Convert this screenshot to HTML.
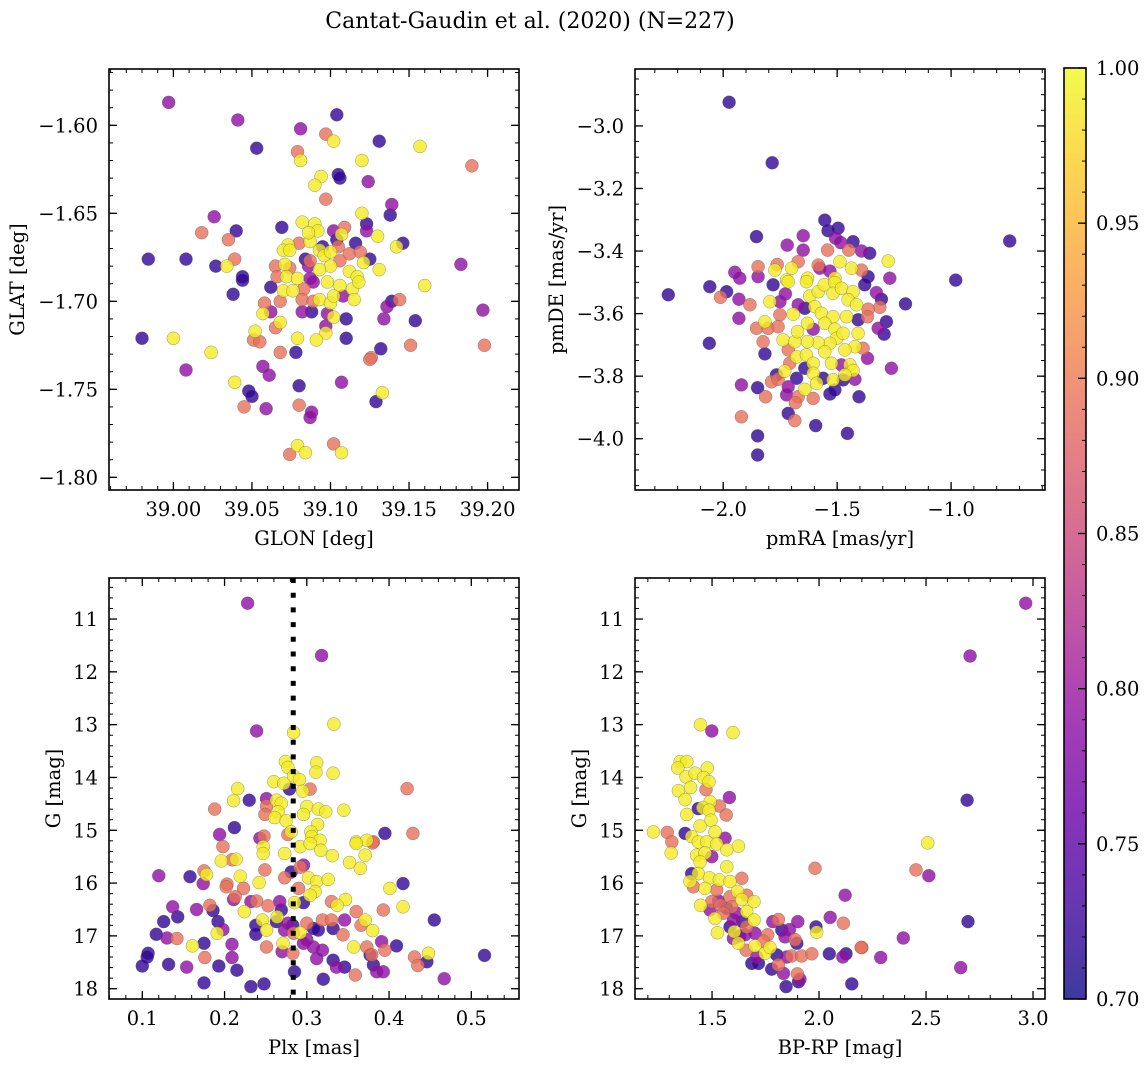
<!DOCTYPE html>
<html><head><meta charset="utf-8"><style>
html,body{margin:0;padding:0;background:#fff;}
svg{display:block;font-family:"DejaVu Serif","Liberation Serif",serif;}
</style></head><body>
<svg id="fig" width="1148" height="1067" viewBox="0 0 1148 1067" xmlns="http://www.w3.org/2000/svg">
<text x="530" y="28" text-anchor="middle" font-size="22">Cantat-Gaudin et al. (2020) (N=227)</text>
</svg>
<script>
// ---- data: [x, y, membership probability] ----
const posPoints = [
[38.997,-1.587,.79],[39.041,-1.597,.79],[39.104,-1.594,.72],[39.081,-1.602,.79],[39.097,-1.605,.89],[39.102,-1.609,.99],
[39.053,-1.613,.72],[39.131,-1.609,.72],[39.157,-1.612,.99],[39.190,-1.623,.89],[39.079,-1.615,.89],[39.081,-1.620,.99],
[39.120,-1.620,.99],[39.105,-1.628,.72],[39.106,-1.630,.72],[39.094,-1.629,.99],[39.090,-1.634,.99],[39.124,-1.632,.79],
[39.097,-1.642,.89],[39.139,-1.645,.79],[39.138,-1.651,.72],[39.120,-1.650,.99],[39.026,-1.652,.79],[39.069,-1.658,.72],
[39.082,-1.655,.99],[39.090,-1.656,.99],[39.092,-1.660,.99],[39.102,-1.660,.79],[39.109,-1.658,.89],[39.123,-1.656,.72],
[39.123,-1.660,.79],[39.130,-1.663,.99],[39.107,-1.662,.99],[39.018,-1.661,.89],[39.040,-1.660,.72],[39.035,-1.665,.89],
[39.146,-1.667,.72],[39.142,-1.669,.99],[39.116,-1.667,.72],[38.984,-1.676,.72],[39.008,-1.676,.72],[39.039,-1.676,.89],
[39.034,-1.680,.99],[39.027,-1.680,.72],[39.183,-1.679,.79],[39.044,-1.686,.72],[39.087,-1.666,.99],[39.086,-1.661,.99],
[39.080,-1.667,.89],[39.073,-1.668,.99],[39.070,-1.671,.99],[39.074,-1.671,.99],[39.084,-1.676,.72],[39.086,-1.680,.79],
[39.087,-1.677,.89],[39.093,-1.671,.99],[39.096,-1.674,.99],[39.100,-1.672,.99],[39.095,-1.669,.72],[39.104,-1.665,.72],
[39.105,-1.669,.89],[39.112,-1.673,.89],[39.106,-1.677,.89],[39.119,-1.672,.89],[39.121,-1.678,.99],[39.125,-1.676,.72],
[39.131,-1.682,.99],[39.112,-1.683,.99],[39.100,-1.680,.99],[39.093,-1.682,.99],[39.071,-1.679,.99],[39.074,-1.681,.89],
[39.065,-1.680,.89],[39.066,-1.686,.89],[39.072,-1.686,.99],[39.079,-1.687,.99],[39.117,-1.686,.99],[39.087,-1.687,.79],
[39.044,-1.688,.72],[39.038,-1.696,.72],[39.062,-1.692,.72],[39.070,-1.694,.99],[39.076,-1.694,.99],[39.083,-1.693,.89],
[39.089,-1.689,.79],[39.098,-1.689,.99],[39.106,-1.691,.99],[39.114,-1.693,.99],[39.118,-1.689,.99],[39.160,-1.691,.99],
[39.058,-1.701,.89],[39.068,-1.700,.89],[39.082,-1.699,.89],[39.089,-1.700,.89],[39.093,-1.699,.99],[39.100,-1.701,.99],
[39.102,-1.697,.99],[39.108,-1.697,.79],[39.115,-1.699,.99],[39.062,-1.706,.79],[39.057,-1.707,.99],[39.082,-1.706,.79],
[39.088,-1.706,.72],[39.098,-1.707,.79],[39.102,-1.709,.99],[39.110,-1.710,.72],[39.139,-1.700,.72],[39.144,-1.699,.89],
[39.136,-1.703,.79],[39.134,-1.710,.79],[39.154,-1.711,.72],[39.197,-1.705,.79],[39.198,-1.725,.89],[39.151,-1.725,.89],
[39.132,-1.727,.72],[39.126,-1.732,.89],[39.125,-1.733,.89],[39.110,-1.721,.72],[39.097,-1.718,.99],[39.091,-1.722,.99],
[39.097,-1.714,.79],[39.079,-1.721,.99],[39.068,-1.712,.99],[39.065,-1.715,.89],[39.052,-1.717,.99],[39.051,-1.722,.89],
[39.055,-1.723,.89],[39.068,-1.729,.89],[39.078,-1.729,.72],[38.980,-1.721,.72],[39.000,-1.721,.99],[39.024,-1.729,.99],
[39.008,-1.739,.79],[39.057,-1.737,.79],[39.061,-1.742,.79],[39.039,-1.746,.99],[39.048,-1.751,.72],[39.050,-1.754,.72],
[39.045,-1.760,.89],[39.059,-1.761,.79],[39.080,-1.748,.72],[39.080,-1.759,.89],[39.088,-1.763,.79],[39.087,-1.766,.79],
[39.107,-1.746,.79],[39.133,-1.752,.99],[39.129,-1.757,.72],[39.079,-1.782,.99],[39.074,-1.787,.89],[39.084,-1.786,.99],
[39.102,-1.781,.89],[39.107,-1.786,.99]
];
const pmPoints = [
[-1.974,-2.924,.72],[-1.785,-3.118,.72],[-0.743,-3.368,.72],[-1.854,-3.354,.72],[-1.554,-3.301,.72],[-1.540,-3.335,.72],
[-1.496,-3.327,.72],[-1.507,-3.359,.79],[-1.430,-3.370,.72],[-1.484,-3.373,.79],[-1.357,-3.407,.72],[-1.393,-3.400,.79],
[-1.449,-3.397,.89],[-1.542,-3.397,.89],[-1.649,-3.351,.79],[-1.719,-3.381,.79],[-1.649,-3.397,.79],[-1.276,-3.432,.99],
[-1.847,-3.450,.89],[-1.763,-3.443,.89],[-1.773,-3.461,.99],[-1.700,-3.455,.99],[-1.671,-3.434,.89],[-1.583,-3.445,.89],
[-1.576,-3.455,.79],[-1.532,-3.464,.79],[-1.488,-3.434,.99],[-1.437,-3.455,.99],[-1.393,-3.461,.89],[-1.949,-3.468,.79],
[-1.927,-3.487,.79],[-1.847,-3.482,.79],[-1.269,-3.487,.79],[-1.364,-3.482,.72],[-0.980,-3.493,.72],[-1.722,-3.493,.99],
[-1.630,-3.487,.99],[-1.510,-3.487,.99],
[-2.241,-3.540,.72],[-2.059,-3.514,.72],[-1.985,-3.530,.72],[-2.012,-3.548,.89],[-1.931,-3.554,.79],[-1.883,-3.572,.89],
[-1.931,-3.615,.79],[-1.781,-3.508,.72],[-1.715,-3.498,.99],[-1.635,-3.498,.99],[-1.795,-3.562,.99],[-1.751,-3.562,.79],
[-1.727,-3.537,.79],[-1.671,-3.572,.79],[-1.620,-3.544,.99],[-1.583,-3.530,.99],[-1.557,-3.508,.99],[-1.510,-3.501,.99],
[-1.518,-3.535,.99],[-1.481,-3.519,.99],[-1.430,-3.530,.99],[-1.452,-3.556,.99],[-1.415,-3.572,.99],[-1.379,-3.508,.72],
[-1.328,-3.533,.79],[-1.306,-3.554,.72],[-1.313,-3.580,.89],[-1.200,-3.569,.72],[-1.364,-3.586,.89],[-1.817,-3.626,.99],
[-1.751,-3.604,.89],[-1.693,-3.602,.99],[-1.642,-3.583,.72],[-1.598,-3.578,.99],[-1.569,-3.599,.99],[-1.518,-3.610,.99],
[-1.459,-3.610,.99],[-1.408,-3.620,.72],[-1.367,-3.610,.89],[-1.284,-3.626,.72],[-1.294,-3.666,.72],[-1.320,-3.647,.79],
[-1.408,-3.663,.99],[-1.854,-3.647,.89],[-1.803,-3.647,.89],[-1.759,-3.642,.89],[-1.825,-3.690,.89],[-1.737,-3.684,.99],
[-1.686,-3.690,.99],[-1.674,-3.658,.99],[-1.630,-3.631,.99],[-1.605,-3.650,.79],[-1.554,-3.631,.99],[-1.510,-3.650,.99],
[-1.503,-3.679,.99],[-1.474,-3.663,.99],[-1.422,-3.706,.99],[-1.386,-3.711,.89],[-1.466,-3.716,.99],[-1.532,-3.695,.99],
[-1.583,-3.693,.99],[-1.630,-3.690,.99],[-2.061,-3.695,.72],[-1.817,-3.729,.72],[-1.715,-3.716,.89],[-1.678,-3.738,.99],
[-1.635,-3.732,.99],[-1.605,-3.759,.99],[-1.554,-3.722,.99],[-1.525,-3.759,.99],[-1.481,-3.764,.79],[-1.444,-3.764,.99],
[-1.430,-3.782,.99],[-1.367,-3.743,.79],[-1.262,-3.775,.79],[-1.708,-3.759,.89],[-1.730,-3.784,.99],[-1.642,-3.775,.72],
[-1.605,-3.791,.99],[-1.678,-3.807,.72],[-1.766,-3.796,.72],[-1.788,-3.818,.89],[-1.759,-3.810,.89],[-1.715,-3.834,.79],
[-1.642,-3.842,.99],[-1.590,-3.823,.99],[-1.561,-3.807,.72],[-1.518,-3.812,.99],[-1.474,-3.812,.72],[-1.422,-3.810,.79],
[-1.466,-3.796,.99],[-1.920,-3.828,.79],[-1.849,-3.837,.72],[-1.814,-3.866,.89],[-1.722,-3.860,.79],[-1.671,-3.866,.89],
[-1.605,-3.871,.89],[-1.532,-3.857,.72],[-1.510,-3.844,.72],[-1.404,-3.866,.72],[-1.683,-3.885,.89],[-1.920,-3.930,.89],
[-1.715,-3.919,.72],[-1.686,-3.942,.89],[-1.594,-3.958,.72],[-1.455,-3.983,.72],[-1.849,-3.991,.72],[-1.849,-4.052,.72]
];
const plxPoints = [
[0.228,10.70,.79],[0.318,11.69,.79],[0.239,13.12,.79],[0.284,13.15,.99],[0.333,12.99,.99],[0.274,13.70,.99],[0.277,13.81,.99],
[0.312,13.72,.99],[0.311,13.90,.99],[0.332,13.92,.99],[0.260,14.08,.99],[0.272,14.11,.99],[0.284,13.97,.99],[0.291,14.04,.99],
[0.304,14.22,.89],[0.295,14.26,.99],[0.279,14.22,.72],[0.216,14.21,.99],[0.211,14.44,.99],[0.230,14.43,.72],[0.251,14.40,.79],
[0.263,14.43,.99],[0.269,14.49,.99],[0.251,14.54,.89],[0.249,14.70,.89],[0.265,14.65,.99],[0.261,14.76,.99],[0.275,14.82,.99],
[0.300,14.55,.99],[0.296,14.70,.99],[0.314,14.60,.99],[0.323,14.65,.99],[0.345,14.62,.99],[0.313,14.89,.99],[0.422,14.21,.89],
[0.429,15.06,.89],[0.395,15.06,.72],[0.188,14.60,.89],[0.212,14.95,.72],[0.194,15.08,.79],[0.243,15.15,.79],[0.248,15.11,.89],
[0.281,15.03,.99],[0.277,15.08,.89],[0.305,15.03,.99],[0.306,15.12,.99],[0.316,15.19,.99],[0.360,15.22,.99],[0.373,15.19,.99],
[0.381,15.22,.89],
[0.198,15.31,.89],[0.247,15.31,.99],[0.247,15.44,.99],[0.273,15.44,.99],[0.292,15.31,.99],[0.304,15.25,.99],[0.317,15.38,.99],
[0.331,15.48,.99],[0.360,15.25,.99],[0.371,15.47,.99],[0.380,15.24,.89],[0.196,15.58,.99],[0.214,15.55,.99],[0.209,15.56,.89],
[0.249,15.75,.89],[0.292,15.70,.89],[0.296,15.66,.79],[0.281,15.79,.72],[0.352,15.61,.99],[0.365,15.72,.99],[0.120,15.86,.79],
[0.158,15.88,.72],[0.175,15.77,.89],[0.178,15.84,.99],[0.174,16.01,.79],[0.219,15.87,.99],[0.203,16.02,.89],[0.202,16.07,.89],
[0.223,16.10,.89],[0.242,15.99,.99],[0.273,15.90,.89],[0.290,16.10,.89],[0.302,15.90,.99],[0.312,15.97,.99],[0.326,15.93,.99],
[0.310,16.16,.99],[0.304,16.23,.99],[0.417,16.01,.72],[0.401,16.10,.99],[0.417,16.45,.99],[0.347,16.31,.99],[0.337,16.42,.99],
[0.330,16.35,.89],[0.232,16.35,.79],[0.239,16.34,.89],[0.253,16.43,.89],[0.267,16.35,.79],[0.285,16.37,.99],[0.296,16.37,.72],
[0.211,16.31,.79],[0.213,16.26,.89],[0.182,16.42,.89],[0.186,16.52,.72],[0.166,16.50,.79],[0.137,16.45,.79],[0.143,16.64,.72],
[0.126,16.73,.72],[0.117,16.97,.72],[0.130,17.04,.79],[0.142,17.05,.89],[0.107,17.33,.72],[0.106,17.40,.72],[0.100,17.57,.72],
[0.132,17.54,.72],[0.154,17.59,.79],[0.161,17.19,.99],[0.175,17.14,.72],[0.176,17.41,.89],[0.175,17.89,.72],[0.191,16.95,.99],
[0.192,16.73,.72],[0.198,16.88,.79],[0.209,17.16,.79],[0.209,17.41,.79],[0.193,17.57,.72],[0.215,17.65,.72],[0.232,17.96,.72],
[0.248,17.91,.72],[0.224,16.54,.99],[0.238,16.80,.72],[0.238,16.97,.72],[0.246,16.70,.99],[0.251,16.89,.99],[0.264,16.64,.99],
[0.269,16.51,.72],[0.263,16.73,.72],[0.273,16.89,.79],[0.277,16.76,.79],[0.283,16.80,.72],[0.284,16.95,.89],[0.292,16.94,.99],
[0.300,16.76,.89],[0.308,16.86,.72],[0.314,16.89,.72],[0.319,16.70,.89],[0.330,16.70,.89],[0.346,16.70,.79],[0.360,16.54,.89],
[0.371,16.70,.99],[0.366,16.80,.89],[0.380,16.90,.99],[0.393,16.51,.89],[0.455,16.70,.72],[0.344,16.98,.89],[0.332,16.86,.72],
[0.300,17.07,.79],[0.296,17.14,.79],[0.308,17.21,.79],[0.319,17.27,.79],[0.312,17.43,.79],[0.332,17.46,.72],[0.336,17.59,.79],
[0.346,17.59,.72],[0.320,17.82,.72],[0.357,17.21,.99],[0.373,17.21,.89],[0.377,17.36,.72],[0.379,17.36,.89],[0.381,17.55,.72],
[0.385,17.68,.79],[0.393,17.68,.79],[0.391,17.11,.79],[0.395,17.27,.89],[0.409,17.19,.72],[0.271,17.14,.99],[0.270,17.30,.79],
[0.283,17.33,.89],[0.251,17.21,.89],[0.285,17.68,.72],[0.359,17.74,.89],[0.431,17.40,.89],[0.435,17.56,.89],[0.448,17.33,.99],
[0.446,17.49,.72],[0.467,17.81,.79],[0.516,17.37,.72]
];
const cmdPoints = [
[2.966,10.70,.79],[2.706,11.70,.79],[2.692,14.43,.72],[2.508,15.24,.99],[2.453,15.75,.89],[2.513,15.86,.79],[2.696,16.73,.72],
[2.394,17.04,.79],[2.288,17.41,.79],[2.200,17.22,.89],[2.662,17.60,.79],
[1.446,13.00,.99],[1.499,13.12,.79],[1.598,13.15,.99],[1.351,13.70,.99],[1.382,13.70,.99],[1.340,13.82,.99],[1.478,13.82,.99],
[1.379,13.99,.99],[1.421,13.92,.99],[1.460,14.00,.99],[1.486,14.08,.99],[1.400,14.19,.99],[1.343,14.25,.99],[1.472,14.23,.89],
[1.374,14.42,.99],[1.581,14.38,.79],[1.491,14.46,.99],[1.457,14.57,.99],[1.486,14.62,.99],[1.534,14.54,.89],[1.436,14.59,.72],
[1.382,14.70,.99],[1.566,14.71,.89],[1.495,14.81,.99],[1.444,14.92,.99],[1.374,15.06,.72],[1.226,15.03,.99],[1.291,15.04,.89],
[1.312,15.22,.89],[1.309,15.43,.99],[1.405,15.12,.99],[1.436,15.22,.99],[1.475,15.22,.99],[1.514,15.03,.99],[1.561,15.15,.79],
[1.522,15.26,.99],[1.623,15.30,.99],[1.569,15.37,.99],[1.428,15.47,.99],[1.467,15.43,.99],[1.444,15.60,.99],[1.499,15.50,.79],
[1.981,15.72,.89],[1.569,15.69,.99],[1.405,15.82,.72],[1.436,15.82,.99],[1.397,15.97,.99],[1.488,15.90,.99],[1.534,15.94,.99],
[1.584,15.97,.99],[1.639,15.91,.89],[1.413,16.07,.89],[1.467,16.10,.99],[1.522,16.13,.89],[1.619,16.16,.99],[1.662,16.23,.89],
[1.584,16.26,.89],[1.639,16.31,.99],[1.696,16.35,.99],[1.447,16.42,.99],[1.499,16.35,.89],[1.538,16.42,.89],[1.592,16.45,.89],
[1.662,16.54,.99],[2.122,16.23,.79],[1.491,16.51,.79],[1.553,16.57,.89],[1.696,16.70,.99],[1.514,16.67,.99],[1.600,16.70,.79],
[1.644,16.73,.72],[2.052,16.65,.79],[2.114,16.76,.89],[1.810,16.69,.89],[1.784,16.73,.79],[1.901,16.73,.79],[1.525,16.94,.99],
[1.584,16.83,.72],[1.604,16.92,.99],[1.826,16.89,.72],[1.862,16.88,.79],[1.986,16.83,.72],[1.989,16.93,.99],[1.600,17.05,.79],
[1.654,16.98,.79],[1.701,16.95,.79],[1.760,16.98,.89],[1.841,17.02,.79],[1.888,17.07,.89],[1.896,17.14,.72],[1.623,17.14,.99],
[1.659,17.27,.89],[1.701,17.19,.99],[1.709,17.40,.79],[1.748,17.33,.99],[1.771,17.22,.99],[1.802,17.36,.72],[1.849,17.40,.79],
[1.872,17.38,.89],[1.919,17.38,.89],[1.966,17.34,.89],[2.048,17.34,.72],[2.126,17.34,.72],[2.111,17.40,.79],[2.197,17.22,.89],
[1.686,17.52,.72],[1.717,17.52,.72],[1.779,17.63,.72],[1.810,17.55,.89],[1.834,17.71,.79],[1.899,17.72,.89],[1.911,17.82,.79],
[1.904,17.87,.72],[1.846,17.96,.72],[2.153,17.91,.72],[1.530,16.34,.79],[1.569,16.48,.72],[1.615,16.57,.79],[1.662,16.83,.89],
[1.630,17.00,.72],[1.740,17.10,.89]
];
const plxLine = 0.2835;
// tick arrays
const p1XTicks = [39.00,39.05,39.10,39.15,39.20];
const p1YTicks = [-1.80,-1.75,-1.70,-1.65,-1.60];
const p2XTicks = [-2.0,-1.5,-1.0];
const p2YTicks = [-4.0,-3.8,-3.6,-3.4,-3.2,-3.0];
const p3XTicks = [0.1,0.2,0.3,0.4,0.5];
const gTicks = [11,12,13,14,15,16,17,18];
const p4XTicks = [1.5,2.0,2.5,3.0];
const cbTicks = [0.70,0.75,0.80,0.85,0.90,0.95,1.00];
const probRange = [0.70, 1.00];

const FS = 19.5;
const NS = "http://www.w3.org/2000/svg";
const svg = document.getElementById('fig');
const plasma = ["#0d0887","#41049d","#6a00a8","#8f0da4","#b12a90","#cc4778","#e16462","#f2844b","#fca636","#fcce25","#f0f921"];
function hex(c){return [parseInt(c.substr(1,2),16),parseInt(c.substr(3,2),16),parseInt(c.substr(5,2),16)];}
function cmap(t){
  t=Math.max(0,Math.min(1,t)); const f=t*10, i=Math.min(9,Math.floor(f)), r=f-i;
  const a=hex(plasma[i]), b=hex(plasma[i+1]);
  return "rgb("+a.map((v,k)=>Math.round(v+(b[k]-v)*r)).join(",")+")";
}
function el(tag, attrs, parent){ const e=document.createElementNS(NS,tag); for(const k in attrs) e.setAttribute(k,attrs[k]); (parent||svg).appendChild(e); return e; }
function fmt(v,d){ return (v<0?"\u2212":"")+Math.abs(v).toFixed(d); }

function panel(cfg){
  const g=el('g',{});
  
  
  const sx=v=>cfg.x0+(v-cfg.xlim[0])/(cfg.xlim[1]-cfg.xlim[0])*(cfg.x1-cfg.x0);
  const sy=cfg.invert ? (v=>cfg.y0+(v-cfg.ylim[0])/(cfg.ylim[1]-cfg.ylim[0])*(cfg.y1-cfg.y0))
                      : (v=>cfg.y1-(v-cfg.ylim[0])/(cfg.ylim[1]-cfg.ylim[0])*(cfg.y1-cfg.y0));
  const clipId='clip'+cfg.name;
  const cp=el('clipPath',{id:clipId},g); el('rect',{x:cfg.x0,y:cfg.y0,width:cfg.x1-cfg.x0,height:cfg.y1-cfg.y0},cp);
  const pg=el('g',{'clip-path':'url(#'+clipId+')'},g);
  const pts=cfg.data.slice().sort((a,b)=>a[2]-b[2]);
  pts.forEach(p=>{
    const c=el('circle',{cx:sx(p[0]).toFixed(1),cy:sy(p[1]).toFixed(1),r:6.5,fill:cmap((p[2]-probRange[0])/(probRange[1]-probRange[0])),'fill-opacity':0.8,stroke:'#555','stroke-width':0.5,'stroke-opacity':0.6},pg);
    
    
  });
  if(cfg.vline!==undefined){
    const l=el('line',{x1:sx(cfg.vline),x2:sx(cfg.vline),y1:cfg.y0,y2:cfg.y1,stroke:'#000','stroke-width':5,'stroke-dasharray':'5 9.7'},pg);
    
    
  }
  const tk={stroke:'#000','stroke-width':1};
  for(let v=Math.ceil(cfg.xlim[0]/cfg.xminor-1e-6)*cfg.xminor; v<=cfg.xlim[1]; v+=cfg.xminor){
    const X=sx(v); el('line',Object.assign({x1:X,x2:X,y1:cfg.y1,y2:cfg.y1-4},tk),g); el('line',Object.assign({x1:X,x2:X,y1:cfg.y0,y2:cfg.y0+4},tk),g);
  }
  const ylo=Math.min(cfg.ylim[0],cfg.ylim[1]), yhi=Math.max(cfg.ylim[0],cfg.ylim[1]);
  for(let v=Math.ceil(ylo/cfg.yminor-1e-6)*cfg.yminor; v<=yhi; v+=cfg.yminor){
    const Y=sy(v); el('line',Object.assign({x1:cfg.x0,x2:cfg.x0+4,y1:Y,y2:Y},tk),g); el('line',Object.assign({x1:cfg.x1,x2:cfg.x1-4,y1:Y,y2:Y},tk),g);
  }
  cfg.xticks.forEach(v=>{
    const X=sx(v);
    el('line',{x1:X,x2:X,y1:cfg.y1,y2:cfg.y1-8,stroke:'#000','stroke-width':1.3},g);
    el('line',{x1:X,x2:X,y1:cfg.y0,y2:cfg.y0+8,stroke:'#000','stroke-width':1.3},g);
    const t=el('text',{x:X,y:cfg.y1+26,'text-anchor':'middle','font-size':FS},g); t.textContent=fmt(v,cfg.xd);
    
    
  });
  cfg.yticks.forEach(v=>{
    const Y=sy(v);
    el('line',{x1:cfg.x0,x2:cfg.x0+8,y1:Y,y2:Y,stroke:'#000','stroke-width':1.3},g);
    el('line',{x1:cfg.x1,x2:cfg.x1-8,y1:Y,y2:Y,stroke:'#000','stroke-width':1.3},g);
    const t=el('text',{x:cfg.x0-11,y:Y+7,'text-anchor':'end','font-size':FS},g); t.textContent=fmt(v,cfg.yd);
    
    
  });
  el('rect',{x:cfg.x0,y:cfg.y0,width:cfg.x1-cfg.x0,height:cfg.y1-cfg.y0,fill:'none',stroke:'#000','stroke-width':1.6},g);
  const xl=el('text',{x:(cfg.x0+cfg.x1)/2,y:cfg.y1+55,'text-anchor':'middle','font-size':FS},g); xl.textContent=cfg.xlabel;
  
  
  const yx=cfg.ylx, yy=(cfg.y0+cfg.y1)/2;
  const yl=el('text',{x:yx,y:yy,'text-anchor':'middle','font-size':FS,transform:'rotate(-90 '+yx+' '+yy+')'},g); yl.textContent=cfg.ylabel;
  
  
}

panel({name:'position-panel',data:posPoints,x0:109,x1:519,y0:69,y1:490,xlim:[38.959,39.220],ylim:[-1.8072,-1.568],
  xticks:p1XTicks,yticks:p1YTicks,xminor:0.01,yminor:0.01,xd:2,yd:2,xlabel:'GLON [deg]',ylabel:'GLAT [deg]',ylx:24});
panel({name:'proper-motion-panel',data:pmPoints,x0:635,x1:1045,y0:69,y1:490,xlim:[-2.387,-0.588],ylim:[-4.164,-2.818],
  xticks:p2XTicks,yticks:p2YTicks,xminor:0.1,yminor:0.05,xd:1,yd:1,xlabel:'pmRA [mas/yr]',ylabel:'pmDE [mas/yr]',ylx:563});
panel({name:'parallax-panel',data:plxPoints,x0:109,x1:519,y0:578,y1:999,xlim:[0.0595,0.558],ylim:[10.223,18.195],invert:true,vline:plxLine,
  xticks:p3XTicks,yticks:gTicks,xminor:0.02,yminor:0.2,xd:1,yd:0,xlabel:'Plx [mas]',ylabel:'G [mag]',ylx:60});
panel({name:'cmd-panel',data:cmdPoints,x0:635,x1:1045,y0:578,y1:999,xlim:[1.140,3.056],ylim:[10.223,18.195],invert:true,
  xticks:p4XTicks,yticks:gTicks,xminor:0.1,yminor:0.2,xd:1,yd:0,xlabel:'BP-RP [mag]',ylabel:'G [mag]',ylx:586});

// colorbar
(function(){
  const cx0=1064,cx1=1086,cy0=68,cy1=999;
  const cg=el('g',{});
  
  
  const defs=el('defs',{},cg);
  const lg=el('linearGradient',{id:'cbgrad',x1:0,y1:1,x2:0,y2:0},defs);
  plasma.forEach((c,i)=>el('stop',{offset:(i/10),'stop-color':c,'stop-opacity':0.8},lg));
  el('rect',{x:cx0,y:cy0,width:cx1-cx0,height:cy1-cy0,fill:'url(#cbgrad)'},cg);
  const sy=v=>cy1-(v-probRange[0])/(probRange[1]-probRange[0])*(cy1-cy0);
  for(let v=probRange[0]; v<=probRange[1]+1e-6; v+=0.01){
    const Y=sy(v); el('line',{x1:cx1,x2:cx1-4,y1:Y,y2:Y,stroke:'#000','stroke-width':1},cg);
  }
  cbTicks.forEach(v=>{
    const Y=sy(v);
    el('line',{x1:cx1,x2:cx1-8,y1:Y,y2:Y,stroke:'#000','stroke-width':1.3},cg);
    const t=el('text',{x:cx1+10,y:Y+7,'font-size':FS},cg); t.textContent=v.toFixed(2);
    
    
  });
  el('rect',{x:cx0,y:cy0,width:cx1-cx0,height:cy1-cy0,fill:'none',stroke:'#000','stroke-width':1.6},cg);
})();
</script>
</body></html>
